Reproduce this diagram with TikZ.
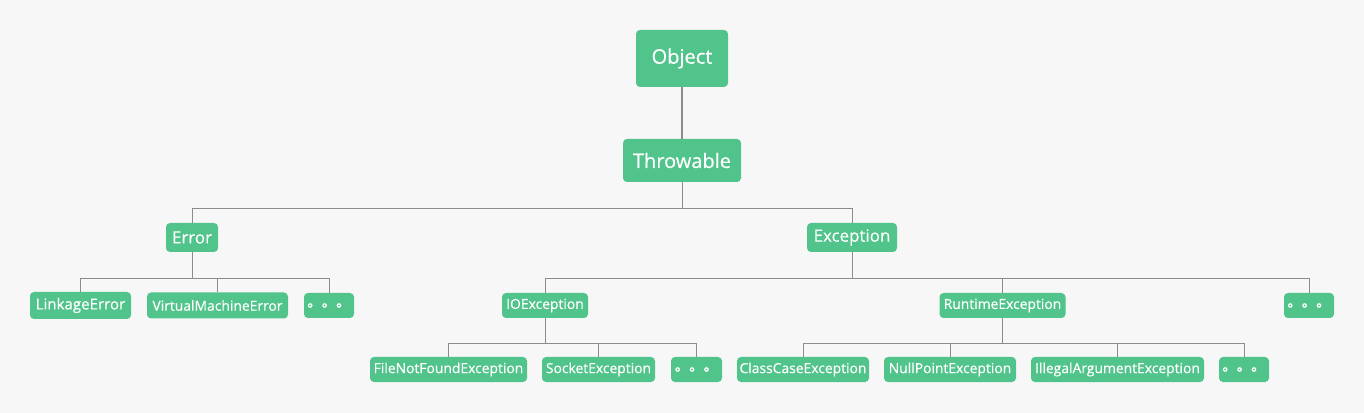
\documentclass[tikz,border=0pt]{standalone}
\usepackage{fontspec}
\setmainfont{Open Sans}[FakeBold=0.4]
\newfontfamily\cjk{Noto Sans CJK SC}[FakeBold=1]
\definecolor{bggray}{HTML}{F7F7F7}
\definecolor{boxgreen}{HTML}{50C48A}
\definecolor{linkgray}{HTML}{8C8C8C}
\tikzset{
  cls/.style={fill=boxgreen, text=white, rounded corners=3pt, inner sep=0pt},
  dim/.style 2 args={minimum width=#1*0.75pt, minimum height=#2*0.75pt},
  big/.style={font=\fontsize{15}{16}\selectfont},
  top/.style={font=\fontsize{12.7}{14}\selectfont},
  mid/.style={font=\fontsize{11.3}{13}\selectfont},
  sml/.style={font=\fontsize{10.4}{12}\selectfont},
  more/.style={font=\fontsize{10.8}{12}\cjk},
  link/.style={draw=linkgray, line width=0.75pt},
}
\begin{document}
\begin{tikzpicture}[x=0.75pt, y=-0.75pt]
  \fill[bggray] (0,0) rectangle (1364,413);

  \begin{scope}[every node/.style={cls}]
    % top
    \node[big, dim={92}{57}]  (obj) at (682,58.5)  {Object};
    \node[big, dim={118}{43}] (thr) at (682,160.5) {Throwable};
    % second level
    \node[top, dim={52}{29}]  (err) at (192,237.5) {Error};
    \node[top, dim={90}{29}]  (exc) at (852,237.5) {Exception};
    % errors
    \node[mid, dim={101}{27}] (lke) at (80.5,305.5)  {LinkageError};
    \node[sml, dim={141}{26}] (vme) at (217.5,305.5) {VirtualMachineError};
    \node[more, dim={50}{25}] (edots) at (329,305.5) {。。。};
    % exceptions
    \node[sml, dim={86}{25}]  (ioe) at (545,305.5)    {IOException};
    \node[sml, dim={126}{25}] (rte) at (1002.5,305.5) {RuntimeException};
    \node[more, dim={50}{25}] (xdots) at (1309,305.5) {。。。};
    % io
    \node[sml, dim={157}{25}] (fnf) at (448.5,369.5) {FileNotFoundException};
    \node[sml, dim={113}{25}] (soc) at (598.5,369.5) {SocketException};
    \node[more, dim={51}{25}] (idots) at (696.5,369.5) {。。。};
    % runtime
    \node[sml, dim={132}{25}] (cce) at (803,369.5)    {ClassCaseException};
    \node[sml, dim={132}{25}] (npe) at (950,369.5)    {NullPointException};
    \node[sml, dim={173}{25}] (iae) at (1117.5,369.5) {IllegalArgumentException};
    \node[more, dim={50}{25}] (rdots) at (1244,369.5) {。。。};
  \end{scope}

  \begin{scope}[every path/.style={link}]
    \draw[line width=1.2pt] (obj) -- (thr);
    \foreach \c in {err,exc}
      \draw (thr.south) -- ++(0,26) -| (\c.north);
    \foreach \c in {lke,vme,edots}
      \draw (err.south) -- ++(0,26) -| (\c.north);
    \foreach \c in {ioe,rte,xdots}
      \draw (exc.south) -- ++(0,26) -| (\c.north);
    \foreach \c in {fnf,soc,idots}
      \draw (ioe.south) -- ++(0,25) -| (\c.north);
    \foreach \c in {cce,npe,iae,rdots}
      \draw (rte.south) -- ++(0,25) -| (\c.north);
  \end{scope}
\end{tikzpicture}
\end{document}
